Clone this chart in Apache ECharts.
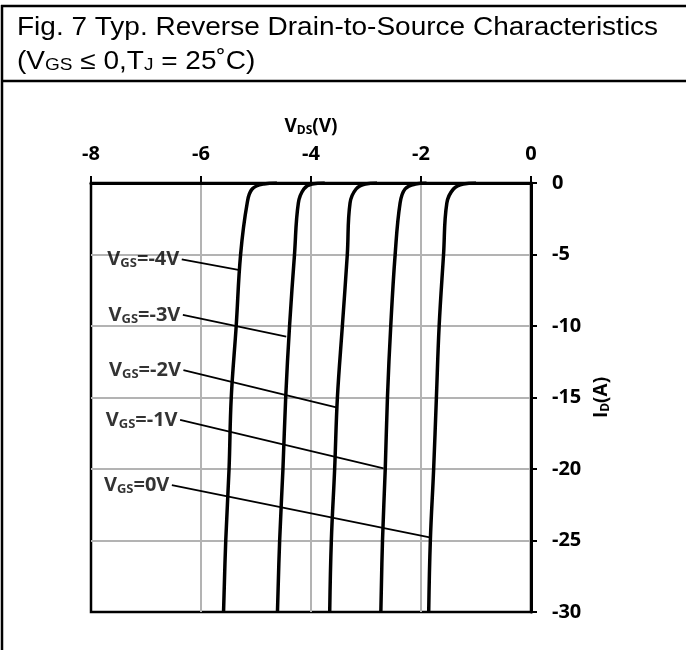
<!DOCTYPE html>
<html lang="en">
<head>
    <meta charset="UTF-8">
    <title>Fig. 7 Typ. Reverse Drain-to-Source Characteristics</title>
    <script src="https://cdn.jsdelivr.net/npm/echarts@6/dist/echarts.min.js"></script>
    <style>html, body { margin: 0; padding: 0; background: #fff; }</style>
</head>
<body>
<div id="fig7" style="width: 686px;height: 650px"></div>

<script>
    // gate voltages, one curve each
    var vgsNames = ['-4V', '-3V', '-2V', '-1V', '0V'];

    // I_D (A) points shared by every curve
    var curveI = [0, -0.07, -0.42, -1.4, -5, -10, -15, -20, -25, -30];
    // V_DS (V) for each curve at the currents above
    var curveV = [
        [-4.62, -4.86, -5.07, -5.16, -5.28, -5.36, -5.45, -5.49, -5.55, -5.59],
        [-3.75, -3.98, -4.13, -4.23, -4.30, -4.39, -4.46, -4.51, -4.57, -4.61],
        [-2.80, -3.01, -3.18, -3.29, -3.34, -3.43, -3.52, -3.57, -3.63, -3.66],
        [-1.90, -2.10, -2.29, -2.38, -2.47, -2.55, -2.61, -2.65, -2.70, -2.73],
        [-1.00, -1.23, -1.41, -1.53, -1.59, -1.67, -1.72, -1.77, -1.83, -1.86]
    ];

    // leader lines from the labels to the curves
    var leaderStartV = [-6.35, -6.33, -6.32, -6.38, -6.53];
    var leaderStartI = [-5.34, -9.23, -13.08, -16.57, -21.12];
    var leaderEndV = [-5.32, -4.45, -3.54, -2.68, -1.82];
    var leaderEndI = [-6.08, -10.75, -15.69, -19.95, -24.80];

    var chart = echarts.init(document.getElementById('fig7'));

    var boldFont = '"Open Sans"';
    var rich = {
        v: {fontFamily: boldFont, fontWeight: 700, fontSize: 20, color: '#000'},
        s: {fontFamily: boldFont, fontWeight: 700, fontSize: 13, color: '#000', padding: [8, 0, 0, 0]},
        r: {fontFamily: boldFont, fontWeight: 700, fontSize: 20, color: '#000'}
    };
    var nameRich = {
        v: {fontFamily: boldFont, fontWeight: 700, fontSize: 19, color: '#000'},
        s: {fontFamily: boldFont, fontWeight: 700, fontSize: 12, color: '#000', padding: [8, 0, 0, 0]},
        r: {fontFamily: boldFont, fontWeight: 700, fontSize: 19, color: '#000'}
    };
    var titleRich = {
        m: {fontFamily: 'Liberation Sans', fontSize: 25, fill: '#000'},
        s: {fontFamily: 'Liberation Sans', fontSize: 17, fill: '#000', padding: [7, 0, 0, 0]}
    };
    var tickLabel = {fontFamily: boldFont, fontWeight: 700, fontSize: 20, color: '#000'};

    var series = [];
    curveV.forEach(function (vs, i) {
        series.push({
            name: vgsNames[i],
            type: 'line',
            data: curveI.map(function (y, k) { return [vs[k], y]; }),
            symbol: 'none',
            smooth: 0.4,
            lineStyle: {color: '#000', width: 3.5},
            z: 4
        });
        series.push({
            type: 'line',
            data: [[leaderStartV[i], leaderStartI[i]], [leaderEndV[i], leaderEndI[i]]],
            symbol: 'none',
            lineStyle: {color: '#000', width: 1.8},
            z: 3
        });
    });
    series.push({
        type: 'scatter',
        symbolSize: 1,
        itemStyle: {color: 'rgba(0,0,0,0)'},
        label: {show: true, position: 'left', distance: 2, fontWeight: 700, fontFamily: boldFont, rich: rich},
        data: leaderStartV.map(function (v, i) {
            return {value: [v, leaderStartI[i]], label: {formatter: '{v|V}{s|GS}{r|=' + vgsNames[i] + '}'}};
        }),
        z: 5
    });

    var option = {
        animation: false,
        grid: {
            left: 91, right: 155, top: 183, bottom: 38,
            show: true, borderColor: '#000', borderWidth: 2.5, backgroundColor: 'transparent'
        },
        xAxis: {
            type: 'value',
            position: 'top',
            min: -8, max: 0, interval: 2,
            name: '{v|V}{s|DS}{r|(V)}',
            nameLocation: 'middle',
            nameGap: 46,
            nameTextStyle: {rich: nameRich},
            axisLine: {show: true, onZero: false, lineStyle: {color: '#000', width: 3}},
            axisTick: {show: true, inside: false, length: 7, lineStyle: {color: '#000', width: 2}},
            axisLabel: Object.assign({margin: 19, showMinLabel: true, showMaxLabel: true}, tickLabel),
            splitLine: {show: true, showMinLine: false, showMaxLine: false, lineStyle: {color: '#b3b3b3', width: 2}}
        },
        yAxis: {
            type: 'value',
            position: 'right',
            min: -30, max: 0, interval: 5,
            name: '{v|I}{s|D}{r|(A)}',
            nameLocation: 'middle',
            nameGap: 55,
            nameRotate: 90,
            nameTextStyle: {rich: nameRich},
            axisLine: {show: true, onZero: false, lineStyle: {color: '#000', width: 3}},
            axisTick: {show: true, inside: false, length: 6, lineStyle: {color: '#000', width: 2}},
            axisLabel: Object.assign({margin: 21, showMinLabel: true, showMaxLabel: true}, tickLabel),
            splitLine: {show: true, showMinLine: false, showMaxLine: false, lineStyle: {color: '#b3b3b3', width: 2}}
        },
        graphic: [
            {type: 'line', shape: {x1: 2, y1: 5, x2: 2, y2: 650}, style: {stroke: '#000', lineWidth: 2.5}},
            {type: 'line', shape: {x1: 1, y1: 6, x2: 686, y2: 6}, style: {stroke: '#000', lineWidth: 2.5}},
            {type: 'line', shape: {x1: 1, y1: 81, x2: 686, y2: 81}, style: {stroke: '#000', lineWidth: 2.5}},
            {
                type: 'text', x: 17, y: 28.5, scaleX: 1.12,
                style: {
                    text: 'Fig. 7 Typ. Reverse Drain-to-Source Characteristics',
                    font: '25px "Liberation Sans"', fill: '#000', verticalAlign: 'middle'
                }
            },
            {
                type: 'text', x: 17, y: 62, scaleX: 1.12,
                style: {
                    text: '{m|(V}{s|GS}{m| \u2264 0,T}{s|J}{m| = 25\u02DAC)}',
                    rich: titleRich, verticalAlign: 'middle'
                }
            }
        ],
        series: series
    };
    chart.setOption(option);
</script>
</body>
</html>
